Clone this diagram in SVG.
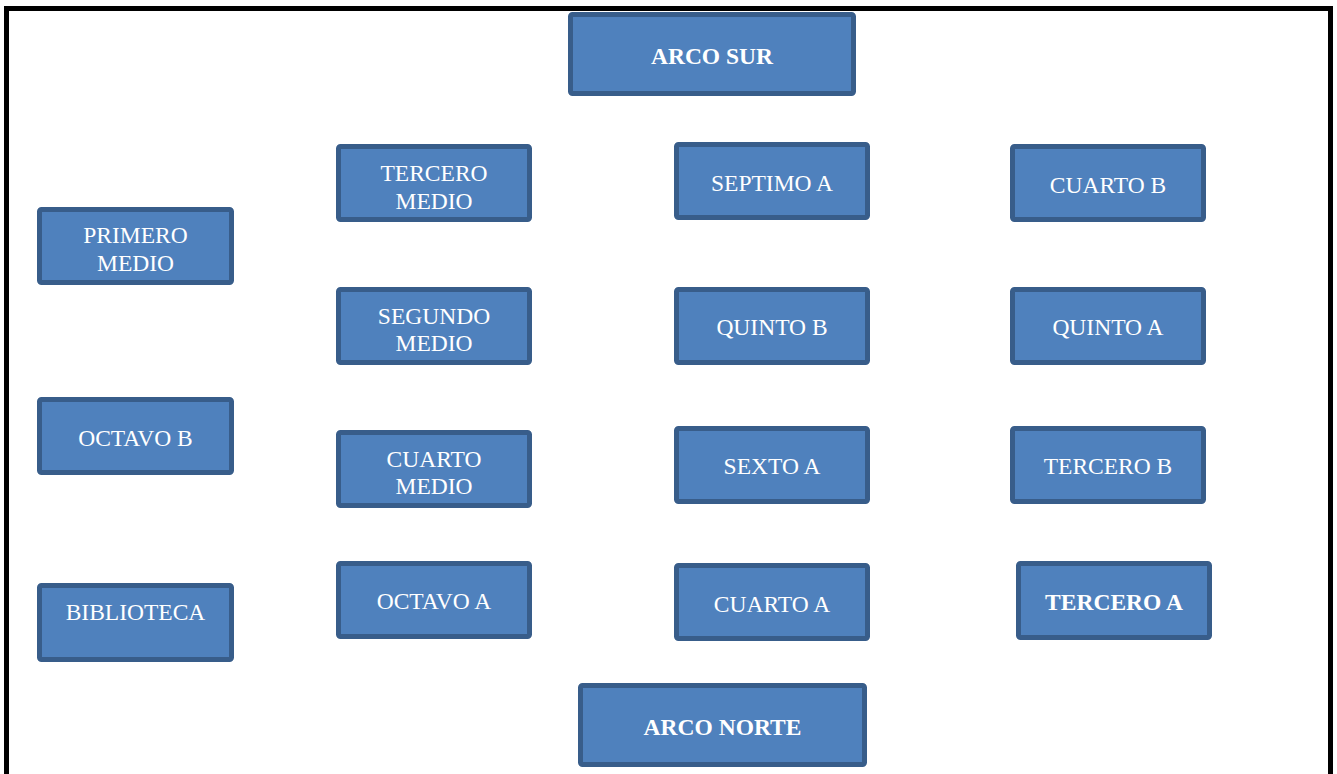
<svg xmlns="http://www.w3.org/2000/svg" width="1337" height="774" viewBox="0 0 1337 774">
<style>
.box{fill:#4F81BD;stroke:#385D8A;stroke-width:5}
.t{font-family:"Liberation Serif","Times New Roman",serif;font-size:23.5px;fill:#FFFFFF;text-anchor:middle}
.b{font-weight:bold}
</style>
<rect width="1337" height="774" fill="#FFFFFF"/>
<path d="M6.5,774 V8.5 H1330.5 V774" fill="none" stroke="#000000" stroke-width="5"/>
<g id="connectors"></g>
<g id="arco-sur"><rect class="box" x="570.5" y="14.5" width="283" height="79" rx="2"/><text class="t b" x="712" y="64">ARCO SUR</text></g>
<g id="tercero-medio"><rect class="box" x="338.5" y="146.5" width="191" height="73" rx="2"/><text class="t" x="434" y="181">TERCERO</text><text class="t" x="434" y="209">MEDIO</text></g>
<g id="septimo-a"><rect class="box" x="676.5" y="144.5" width="191" height="73" rx="2"/><text class="t" x="772" y="191">SEPTIMO A</text></g>
<g id="cuarto-b"><rect class="box" x="1012.5" y="146.5" width="191" height="73" rx="2"/><text class="t" x="1108" y="193">CUARTO B</text></g>
<g id="primero-medio"><rect class="box" x="39.5" y="209.5" width="192" height="73" rx="2"/><text class="t" x="135.5" y="243">PRIMERO</text><text class="t" x="135.5" y="271">MEDIO</text></g>
<g id="segundo-medio"><rect class="box" x="338.5" y="289.5" width="191" height="73" rx="2"/><text class="t" x="434" y="324">SEGUNDO</text><text class="t" x="434" y="351">MEDIO</text></g>
<g id="quinto-b"><rect class="box" x="676.5" y="289.5" width="191" height="73" rx="2"/><text class="t" x="772" y="335">QUINTO B</text></g>
<g id="quinto-a"><rect class="box" x="1012.5" y="289.5" width="191" height="73" rx="2"/><text class="t" x="1108" y="335">QUINTO A</text></g>
<g id="octavo-b"><rect class="box" x="39.5" y="399.5" width="192" height="73" rx="2"/><text class="t" x="135.5" y="446">OCTAVO B</text></g>
<g id="cuarto-medio"><rect class="box" x="338.5" y="432.5" width="191" height="73" rx="2"/><text class="t" x="434" y="467">CUARTO</text><text class="t" x="434" y="494">MEDIO</text></g>
<g id="sexto-a"><rect class="box" x="676.5" y="428.5" width="191" height="73" rx="2"/><text class="t" x="772" y="474">SEXTO A</text></g>
<g id="tercero-b"><rect class="box" x="1012.5" y="428.5" width="191" height="73" rx="2"/><text class="t" x="1108" y="474">TERCERO B</text></g>
<g id="biblioteca"><rect class="box" x="39.5" y="585.5" width="192" height="74" rx="2"/><text class="t" x="135.5" y="620">BIBLIOTECA</text></g>
<g id="octavo-a"><rect class="box" x="338.5" y="563.5" width="191" height="73" rx="2"/><text class="t" x="434" y="609">OCTAVO A</text></g>
<g id="cuarto-a"><rect class="box" x="676.5" y="565.5" width="191" height="73" rx="2"/><text class="t" x="772" y="612">CUARTO A</text></g>
<g id="tercero-a"><rect class="box" x="1018.5" y="563.5" width="191" height="74" rx="2"/><text class="t b" x="1114" y="610">TERCERO A</text></g>
<g id="arco-norte"><rect class="box" x="580.5" y="685.5" width="284" height="79" rx="2"/><text class="t b" x="722.5" y="735">ARCO NORTE</text></g>
</svg>
